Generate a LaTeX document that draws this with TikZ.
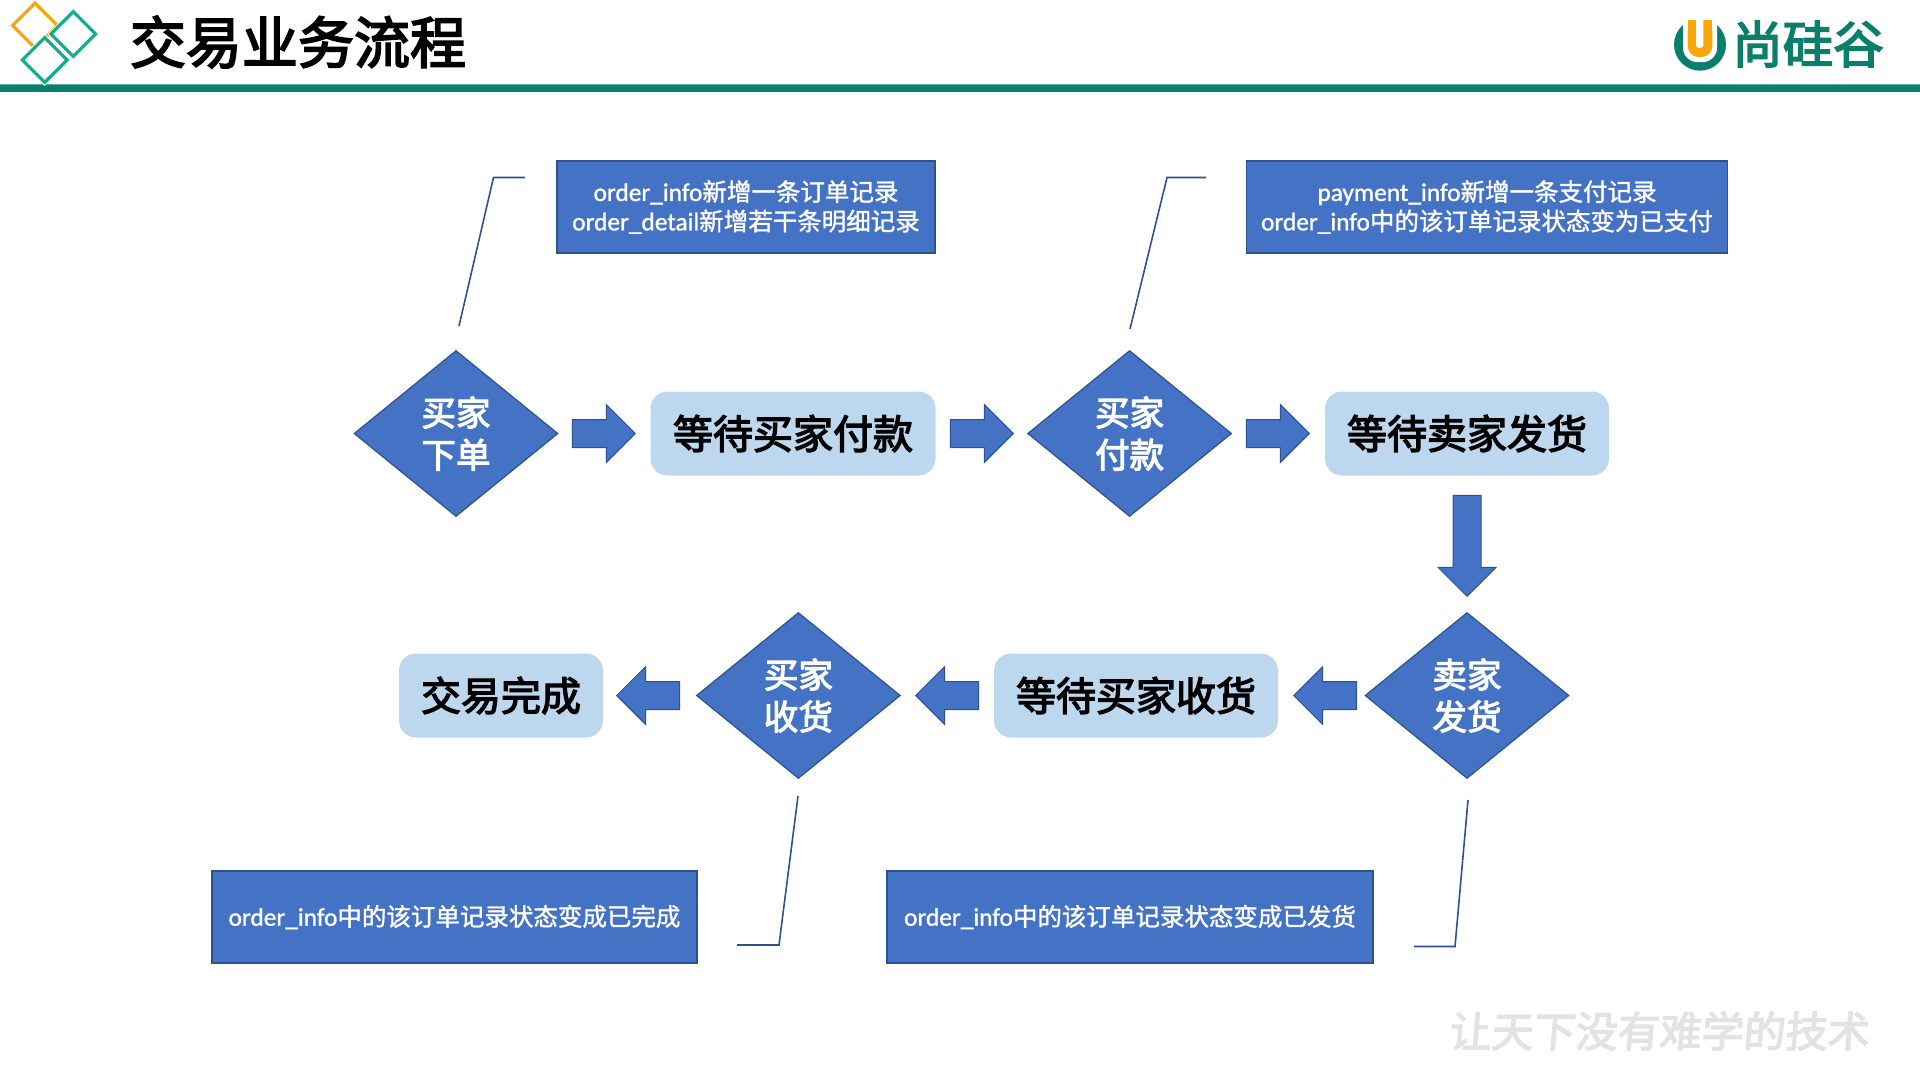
\documentclass[tikz,border=0pt]{standalone}
\usepackage{fontspec}
\setmainfont{Noto Sans CJK SC}
\newfontfamily\lat[Scale=1.035,FakeBold=1.2]{Carlito}
\newfontfamily\heavy[FakeBold=3.2]{Noto Sans CJK SC}
\newfontfamily\slight[FakeBold=1.4]{Noto Sans CJK SC}
\usetikzlibrary{positioning,shapes.geometric,shapes.arrows}
\definecolor{bluefill}{HTML}{4472C4}
\definecolor{blueline}{HTML}{2F528F}
\definecolor{waitfill}{HTML}{BDD7EE}
\definecolor{headgreen}{HTML}{0B7F6C}
\definecolor{logoorange}{HTML}{F9A60A}
\definecolor{logoteal}{HTML}{12AD8E}
\newcommand{\orderinfo}{{\lat order\_info}}
\newcommand{\fs}[2]{\fontsize{#1}{#2}\selectfont}

\begin{document}
\begin{tikzpicture}[
x=1pt,y=-1pt,
action/.style={diamond,aspect=1.229,draw=blueline,line width=1.2pt,fill=bluefill,text=white,inner sep=0pt,minimum width=204pt,minimum height=166pt,font=\heavy\fs{34.5}{42},align=center},
wait/.style={rectangle,rounded corners=17pt,fill=waitfill,text=black,inner sep=0pt,minimum height=84pt,font=\heavy\fs{40}{48}},
note/.style={rectangle,draw=blueline,line width=1.5pt,fill=bluefill,text=white,inner sep=0pt,minimum height=92pt,font=\slight\fs{24.5}{29.4},align=center},
go/.style={single arrow,single arrow head extend=15pt,draw=blueline,line width=1pt,fill=bluefill,inner xsep=0pt,inner ysep=13.5pt,minimum height=63pt},
leader/.style={draw=blueline,line width=1.6pt},
logomark/.style={diamond,aspect=1,inner sep=0pt,minimum size=46pt,line width=3.2pt}]
\useasboundingbox (0,0) rectangle (1920,1080);

\fill[headgreen!65!white] (0,84) rectangle (1920,85.5);
\fill[headgreen] (0,85) rectangle (1920,91.5);

\node[logomark,draw=logoorange] (markone) at (35,25.5) {};
\node[logomark,draw=white,line width=6pt] (markhalotwo) at (73.3,34) {};
\node[logomark,draw=white,line width=6pt] (markhalothree) at (44.7,60) {};
\node[logomark,draw=logoteal] (marktwo) at (73.3,34) {};
\node[logomark,draw=logoteal] (markthree) at (44.7,60) {};
\node[font=\heavy\fs{56}{60},inner sep=0pt] (title) at (298,42) {交易业务流程};

\fill[headgreen] (1700,44.7) circle (26);
\fill[white,rounded corners=14pt] (1683,10) rectangle (1717,62);
\fill[logoorange,rounded corners=11pt] (1687.7,20) rectangle (1712.3,57) ;
\fill[logoorange] (1687.7,20) rectangle (1712.3,40);
\fill[white,rounded corners=3pt] (1696,15) rectangle (1703.3,48);
\node[font=\heavy\fs{50.5}{54},text=headgreen,inner sep=0pt] (brand) at (1808,44) {尚硅谷};

\node[action] (buyerorder) at (456,433.5) {买家\\下单};
\node[wait,minimum width=285pt] (waitpay) at (793,433.5) {等待买家付款};
\node[action] (buyerpay) at (1129.6,433.5) {买家\\付款};
\node[wait,minimum width=284pt] (waitship) at (1467,433.5) {等待卖家发货};
\node[action] (sellership) at (1467,695.5) {卖家\\发货};
\node[wait,minimum width=284pt] (waitrecv) at (1136,695.5) {等待买家收货};
\node[action] (buyerrecv) at (798.4,695.5) {买家\\收货};
\node[wait,minimum width=204pt] (done) at (501,695.5) {交易完成};

\node[go,anchor=tip] (goa) at (636,433.5) {};
\node[go,anchor=tip] (gob) at (1014,433.5) {};
\node[go,anchor=tip] (goc) at (1310,433.5) {};
\node[go,anchor=tip,rotate=-90,minimum height=101pt] (god) at (1467,597) {};
\node[go,anchor=tip,rotate=180] (goe) at (1293,695.5) {};
\node[go,anchor=tip,rotate=180] (gof) at (915,695.5) {};
\node[go,anchor=tip,rotate=180] (gog) at (616,695.5) {};

\node[note,minimum width=378pt] (noteorder) at (746,207) {\orderinfo 新增一条订单记录\\{\lat order\_detail}新增若干条明细记录};
\node[note,minimum width=481pt] (notepay) at (1487,207) {{\lat payment\_info}新增一条支付记录\\\orderinfo 中的该订单记录状态变为已支付};
\node[note,minimum width=485pt] (notedone) at (454.5,917) {\orderinfo 中的该订单记录状态变成已完成};
\node[note,minimum width=486pt] (noteship) at (1130,917) {\orderinfo 中的该订单记录状态变成已发货};

\coordinate (la) at (459,326);
\coordinate (lb) at (493.5,177.5);
\coordinate (lc) at (525,177.5);
\coordinate (ld) at (1130,329);
\coordinate (le) at (1167,177.5);
\coordinate (lf) at (1206,177.5);
\coordinate (lg) at (798,796);
\coordinate (lh) at (779,945);
\coordinate (li) at (737,945);
\coordinate (lj) at (1468,800);
\coordinate (lk) at (1455,946.5);
\coordinate (ll) at (1414,946.5);
\draw[leader] (la) -- (lb) -- (lc);
\draw[leader] (ld) -- (le) -- (lf);
\draw[leader] (lg) -- (lh) -- (li);
\draw[leader] (lj) -- (lk) -- (ll);

\node[font=\heavy\fs{42}{46},text=black!11,inner sep=0pt,xslant=0.08] (motto) at (1660,1031) {让天下没有难学的技术};
\end{tikzpicture}
\end{document}
